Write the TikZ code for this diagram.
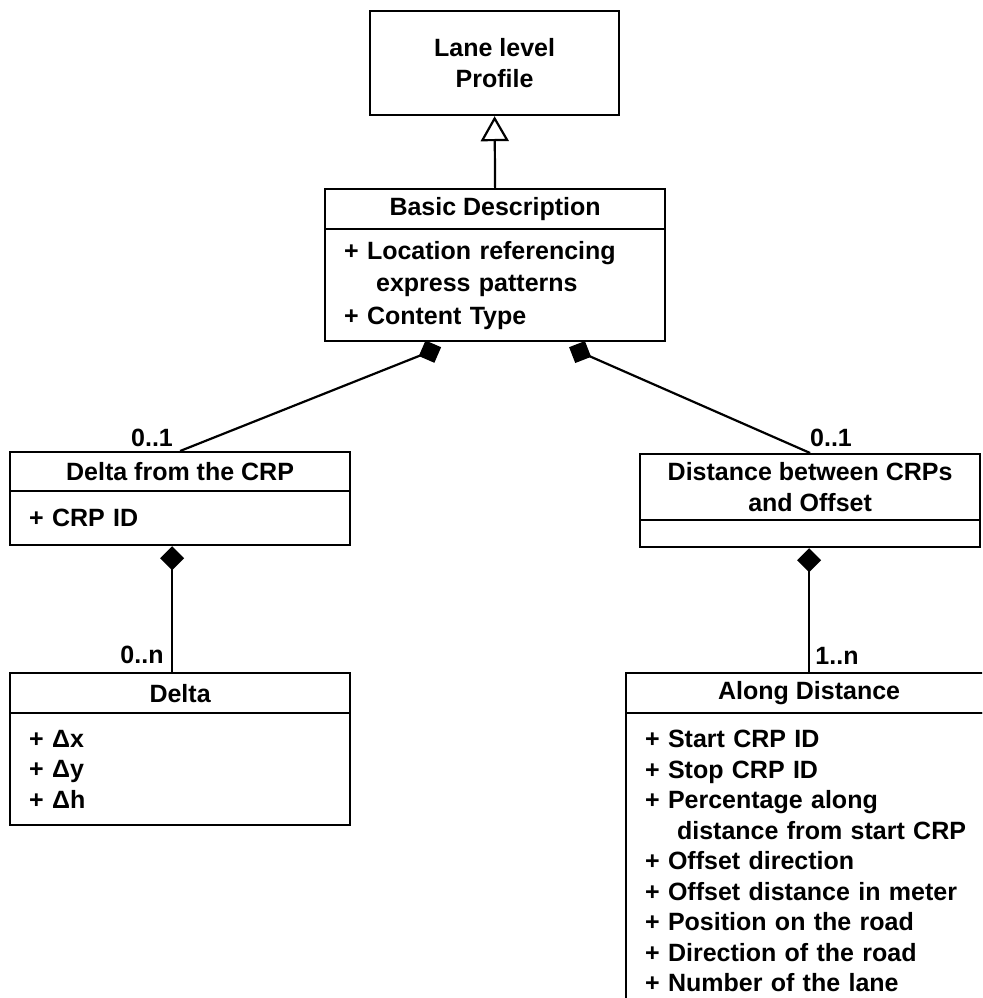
\documentclass[tikz,border=0pt]{standalone}
\usepackage{fontspec}
\setmainfont{Liberation Sans}
\usetikzlibrary{arrows.meta}
\begin{document}
\begin{tikzpicture}[x=1pt,y=-1pt,
  every node/.style={font=\fontsize{25}{31}\selectfont\bfseries},
  box/.style={draw, line width=2.2pt, inner sep=0pt, anchor=north west, align=center},
  attrs/.style={box, align=left, inner xsep=19pt, inner ysep=0pt},
  mult/.style={inner sep=0pt},
  link/.style={line width=2.2pt},
  comp/.style={link, -{Diamond[length=24pt,width=24pt]}},
  gen/.style={link, -{Triangle[open,length=25pt,width=28pt]}}
]
\useasboundingbox (0,0) rectangle (982,998);
\clip (0,0) rectangle (982,998);

% generic profile
\node[box, minimum width=249pt, minimum height=104pt] (llp) at (369,10) {Lane level\\Profile};

% basic description class
\node[box, minimum width=340pt, minimum height=40pt] (bdT) at (324,188) {Basic Description};
\node[attrs, text width=302pt, minimum height=112pt,
      font=\fontsize{25}{32.5}\selectfont\bfseries] (bdB) at (324,228)
  {+ Location referencing\\\hspace*{32pt}express patterns\\+ Content Type};

% delta from the CRP class
\node[box, minimum width=340pt, minimum height=39pt] (dfcT) at (9,451) {Delta from the CRP};
\node[attrs, text width=302pt, minimum height=54pt] (dfcB) at (9,490) {+ CRP ID};

% delta class
\node[box, minimum width=340pt, minimum height=40pt] (dltT) at (9,672) {Delta};
\node[attrs, text width=302pt, minimum height=112pt, font=\fontsize{25}{30.5}\selectfont\bfseries] (dltB) at (9,712)
  {+ Δx\\+ Δy\\+ Δh};

% distance between CRPs class
\node[box, minimum width=340pt, minimum height=66pt] (dstT) at (639,453) {Distance between CRPs\\and Offset};
\node[box, minimum width=340pt, minimum height=27pt] (dstB) at (639,519) {};

% along distance class
\node[box, minimum width=366pt, minimum height=40pt] (adT) at (625,672) {Along Distance};
\node[attrs, text width=328pt, minimum height=296pt, font=\fontsize{25}{30.5}\selectfont\bfseries] (adB) at (625,712)
  {+ Start CRP ID\\
   + Stop CRP ID\\
   + Percentage along\\
   \hspace*{32pt}distance from start CRP\\
   + Offset direction\\
   + Offset distance in meter\\
   + Position on the road\\
   + Direction of the road\\
   + Number of the lane};

% relations
\draw[gen] (bdT.north) -- (llp.south);
\draw[comp] (dfcT.north) -- ([shift={(-54,5)}]bdB.south);
\draw[comp] (dstT.north) -- ([shift={(74,5)}]bdB.south);
\draw[comp] ([xshift=-8pt]dltT.north) -- ([xshift=-8pt]dfcB.south);
\draw[comp] (adT.north) -- (adT.north |- dstB.south);

% multiplicities
\node[mult] (m1) at (152,438) {0..1};
\node[mult] (m2) at (831,438) {0..1};
\node[mult] (m3) at (142,655) {0..n};
\node[mult] (m4) at (837,656) {1..n};
\end{tikzpicture}
\end{document}
